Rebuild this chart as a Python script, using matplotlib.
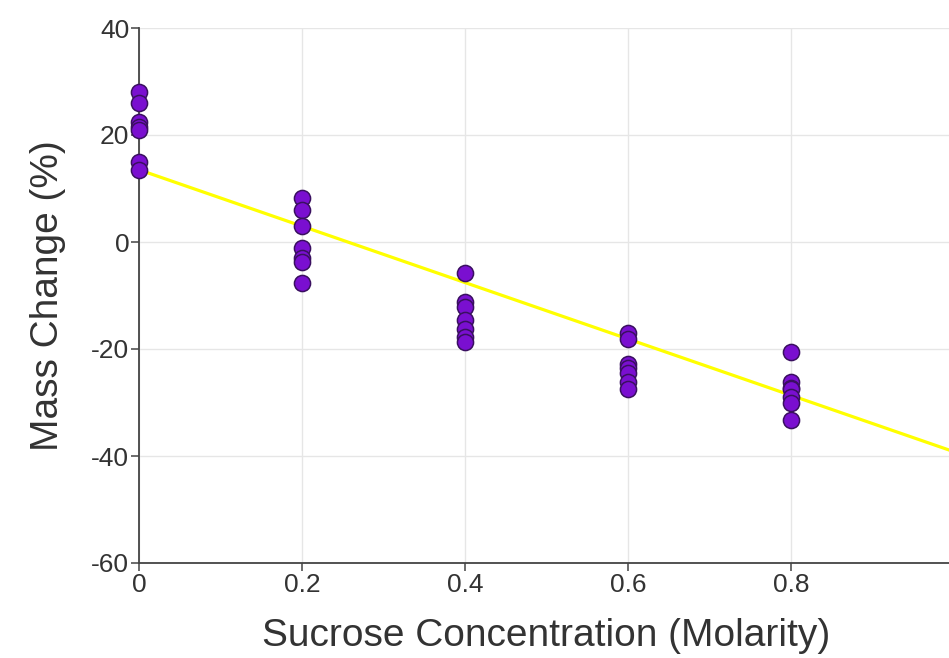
import matplotlib
matplotlib.use("Agg")
import matplotlib.pyplot as plt
import numpy as np

plt.rcParams['font.family'] = ['Liberation Sans', 'DejaVu Sans']
plt.rcParams['axes.unicode_minus'] = False

conc = [0.0, 0.2, 0.4, 0.6, 0.8]
mass_0 = [28.0, 26.0, 22.5, 21.5, 21.0, 15.0, 13.5]
mass_02 = [8.3, 6.0, 3.0, -1.2, -3.0, -3.8, -7.7]
mass_04 = [-5.8, -11.2, -12.2, -14.6, -16.2, -17.8, -18.6]
mass_06 = [-17.0, -18.2, -22.8, -23.5, -24.5, -26.2, -27.4]
mass_08 = [-20.6, -26.1, -27.2, -27.5, -28.9, -30.0, -33.3]
groups = [mass_0, mass_02, mass_04, mass_06, mass_08]

line_x = [0.0, 1.0]
line_y = [13.5, -39.2]

xticks = [0, 0.2, 0.4, 0.6, 0.8]
xticklabels = ["0", "0.2", "0.4", "0.6", "0.8"]
yticks = [-60, -40, -20, 0, 20, 40]

fig = plt.figure(figsize=(9.49, 6.58), dpi=100)
ax = fig.add_axes([139/949, (658-563)/658, 815/949, 535/658])

ax.plot(line_x, line_y, color='#ffff00', lw=2.3, zorder=2, clip_on=False)
for c, g in zip(conc, groups):
    ax.scatter([c]*len(g), g, s=135, color='#7a0fd0', edgecolor='#3a1060',
               linewidth=1.1, zorder=3, clip_on=False)

ax.set_xlim(0, 1.0)
ax.set_ylim(-60, 40)
ax.set_xticks(xticks)
ax.set_xticklabels(xticklabels)
ax.set_yticks(yticks)
ax.axvline(1.0, color='#e6e6e6', lw=1.0, zorder=0)
ax.grid(True, color='#e6e6e6', lw=1.0)
ax.set_axisbelow(True)
for s in ['top', 'right']:
    ax.spines[s].set_visible(False)
for s in ['left', 'bottom']:
    ax.spines[s].set_color('#444444')
    ax.spines[s].set_linewidth(1.3)
ax.tick_params(axis='both', colors='#444444', labelsize=19, length=6, width=1.1, pad=1)
ax.tick_params(axis='both', labelcolor='#333333')

ax.set_xlabel("Sucrose Concentration (Molarity)", fontsize=28, color='#333333', labelpad=15)
ax.set_ylabel("Mass Change (%)", fontsize=28, color='#333333', labelpad=18)

fig.savefig("out.png", dpi=100)
